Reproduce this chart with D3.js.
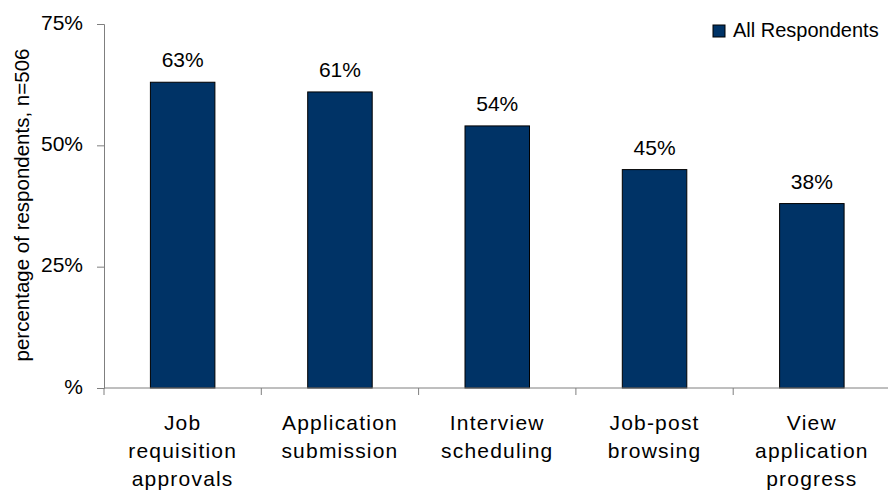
<!DOCTYPE html>
<html>
<head>
<meta charset="utf-8">
<script src="https://cdn.jsdelivr.net/npm/d3@7"></script>
<style>
  html, body { margin: 0; padding: 0; background: #fff; }
  svg { display: block; font-family: "Liberation Sans", Arial, sans-serif; }
</style>
</head>
<body>
<svg id="chart" width="888" height="495"></svg>
<script>
// Categories (multi-line labels) and the share of respondents for each
const categories = [
  ["Job", "requisition", "approvals"],
  ["Application", "submission"],
  ["Interview", "scheduling"],
  ["Job-post", "browsing"],
  ["View", "application", "progress"]
];
const values = [63, 61, 54, 45, 38];
const yTicks = [0, 25, 50, 75];
const yTickLabels = ["%", "25%", "50%", "75%"];
const seriesName = "All Respondents";
const yTitle = "percentage of respondents, n=506";

const svg = d3.select("#chart");
const margin = { left: 104, right: 0, top: 24, bottom: 107 };
const W = 888, H = 495;
const plotW = 786.5, plotH = H - margin.top - margin.bottom;
const fontSize = 21;

const x = d3.scaleBand()
  .domain(d3.range(categories.length))
  .range([margin.left, margin.left + plotW])
  .paddingInner(0.59).paddingOuter(0.295);

const y = d3.scaleLinear().domain([0, 75]).range([margin.top + plotH, margin.top]);

const barColor = "#003366";
const axisColor = "#7f7f7f";

// Bars
svg.append("g").selectAll("rect")
  .data(values)
  .join("rect")
  .attr("x", (d, i) => x(i))
  .attr("y", d => y(d))
  .attr("width", x.bandwidth())
  .attr("height", d => y(0) - y(d))
  .attr("fill", barColor)
  .attr("stroke", "#000")
  .attr("stroke-width", 1);

// Value labels
svg.append("g").selectAll("text")
  .data(values)
  .join("text")
  .attr("x", (d, i) => x(i) + x.bandwidth() / 2)
  .attr("y", d => y(d) - 15)
  .attr("text-anchor", "middle")
  .attr("font-size", fontSize)
  .attr("fill", "#000")
  .text(d => d + "%");

// Y axis
const yAxis = d3.axisLeft(y)
  .tickValues(yTicks)
  .tickFormat((d, i) => yTickLabels[i])
  .tickSize(7)
  .tickPadding(14);
const gy = svg.append("g")
  .attr("transform", `translate(${margin.left},0)`)
  .call(yAxis);
gy.select(".domain").attr("stroke", axisColor);
gy.selectAll(".tick line").attr("stroke", axisColor);
gy.selectAll(".tick text")
  .attr("font-size", fontSize)
  .attr("dy", "0.24em")
  .attr("fill", "#000")
  .attr("font-family", "Liberation Sans, Arial, sans-serif");

// X axis: baseline with ticks at category boundaries
const xBase = y(0);
const step = plotW / categories.length;
const gx = svg.append("g");
gx.append("line")
  .attr("x1", margin.left).attr("x2", margin.left + plotW)
  .attr("y1", xBase).attr("y2", xBase)
  .attr("stroke", axisColor);
gx.selectAll("line.tk")
  .data(d3.range(categories.length + 1))
  .join("line")
  .attr("class", "tk")
  .attr("x1", i => margin.left + i * step)
  .attr("x2", i => margin.left + i * step)
  .attr("y1", xBase).attr("y2", xBase + 7)
  .attr("stroke", axisColor);

// Category labels
const labels = gx.selectAll("text.cat")
  .data(categories)
  .join("text")
  .attr("class", "cat")
  .attr("text-anchor", "middle")
  .attr("font-size", fontSize)
  .attr("letter-spacing", 1.2)
  .attr("fill", "#000");
labels.each(function (lines, i) {
  const cx = x(i) + x.bandwidth() / 2;
  d3.select(this).selectAll("tspan")
    .data(lines)
    .join("tspan")
    .attr("x", cx)
    .attr("y", (d, j) => xBase + 42 + j * 28)
    .text(d => d);
});

// Y axis title
svg.append("text")
  .attr("transform", `translate(29,205) rotate(-90)`)
  .attr("text-anchor", "middle")
  .attr("font-size", 20.5)
  .attr("fill", "#000")
  .text(yTitle);

// Legend
const lg = svg.append("g").attr("transform", "translate(713,25)");
lg.append("rect")
  .attr("width", 12).attr("height", 12)
  .attr("fill", barColor).attr("stroke", "#000");
lg.append("text")
  .attr("x", 20).attr("y", 12)
  .attr("font-size", 20)
  .attr("fill", "#000")
  .text(seriesName);
</script>
</body>
</html>
